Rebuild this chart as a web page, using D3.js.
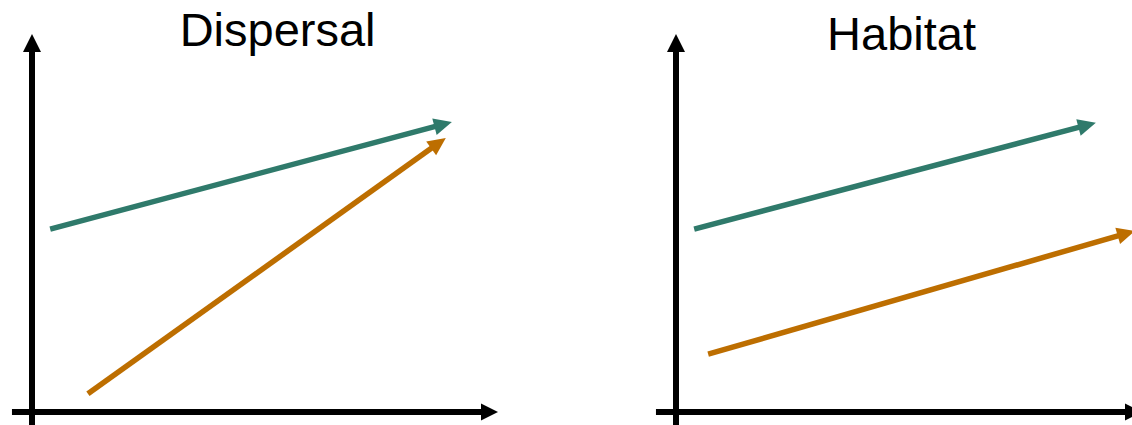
<!DOCTYPE html>
<html><head><meta charset="utf-8">
<script src="https://cdn.jsdelivr.net/npm/d3@7"></script>
<style>html,body{margin:0;padding:0;background:#fff;overflow:hidden}</style>
</head><body><svg id="c" width="1132" height="425"></svg>
<script>
// Data (conceptual axes 0..100)
const panels = ["Dispersal", "Habitat"];
const seriesNames = ["teal", "orange"];
const teal = [ // [x0, y0, x1, y1] per panel
  [3.9, 48.4, 90.1, 76.7],
  [3.9, 48.4, 90.1, 76.5]
];
const orange = [
  [12.0, 4.8, 88.8, 72.5],
  [6.9, 15.3, 98.5, 47.9]
];
const colors = {teal: "#2F7A6B", orange: "#BD6E00"};

const svg = d3.select("#c");
const W = 466, H = 378;
const origins = [[32, 34], [676, 34]];
const titleX = [52.7, 48.4];
const titleBase = [46, 50];

function arrow(g, x0, y0, x1, y1, color, sw, hl, hw) {
  const dx = x1 - x0, dy = y1 - y0, L = Math.hypot(dx, dy);
  const ux = dx / L, uy = dy / L;
  const bx = x1 - ux * hl, by = y1 - uy * hl;
  g.append("line").attr("x1", x0).attr("y1", y0)
    .attr("x2", bx + ux * 1).attr("y2", by + uy * 1)
    .attr("stroke", color).attr("stroke-width", sw);
  const px = -uy, py = ux;
  g.append("path")
    .attr("d", `M${x1},${y1}L${bx + px * hw},${by + py * hw}L${bx - px * hw},${by - py * hw}Z`)
    .attr("fill", color);
}

panels.forEach((name, i) => {
  const g = svg.append("g").attr("transform", `translate(${origins[i][0]},${origins[i][1]})`);
  const x = d3.scaleLinear().domain([0, 100]).range([0, W]);
  const y = d3.scaleLinear().domain([0, 100]).range([H, 0]);
  // axes
  arrow(g, x(0), y(-3.5), x(0), y(100), "#000", 6, 18, 9);
  arrow(g, x(-4.3), y(0), x(100), y(0), "#000", 6, 17, 8.5);
  // series
  [["teal", teal[i]], ["orange", orange[i]]].forEach(([s, d]) => {
    arrow(g, x(d[0]), y(d[1]), x(d[2]), y(d[3]), colors[s], 5.5, 18, 8.5);
  });
  svg.append("text")
    .attr("x", origins[i][0] + x(titleX[i]))
    .attr("y", titleBase[i])
    .attr("text-anchor", "middle")
    .attr("font-family", "Liberation Sans, Arial, sans-serif")
    .attr("font-size", 47)
    .attr("fill", "#000")
    .text(name);
});
</script></body></html>
